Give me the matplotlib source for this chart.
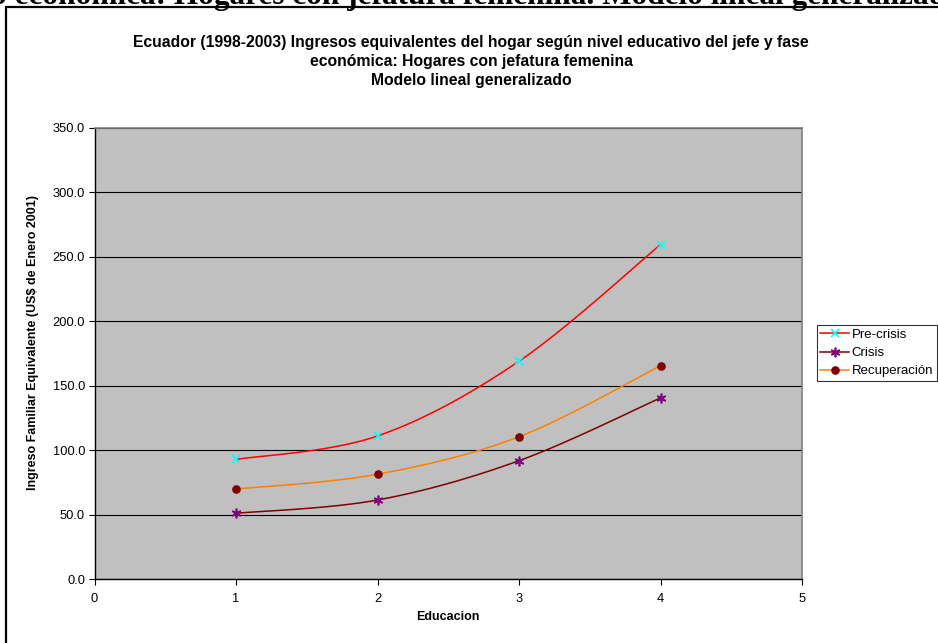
import numpy as np
import matplotlib.pyplot as plt
from matplotlib.patches import Rectangle

# data
educacion = [1, 2, 3, 4]
pre_crisis = [92.8, 111.0, 169.0, 259.5]
crisis = [51.0, 61.3, 91.8, 140.5]
recuperacion = [69.8, 81.3, 110.4, 165.5]


def smooth(xs, ys, n=40):
    # excel-like smoothed line (catmull-rom bezier)
    p = np.column_stack([xs, ys]).astype(float)
    p = np.vstack([p[0], p, p[-1]])
    out = []
    for i in range(1, len(p) - 2):
        p0, p1, p2, p3 = p[i], p[i] + (p[i + 1] - p[i - 1]) / 6, p[i + 1] - (p[i + 2] - p[i]) / 6, p[i + 1]
        t = np.linspace(0, 1, n)[:, None]
        seg = (1 - t) ** 3 * p0 + 3 * (1 - t) ** 2 * t * p1 + 3 * (1 - t) * t ** 2 * p2 + t ** 3 * p3
        out.append(seg if i == 1 else seg[1:])
    seg = np.vstack(out)
    return seg[:, 0], seg[:, 1]


plt.rcParams['font.family'] = ['Liberation Sans', 'DejaVu Sans']

fig = plt.figure(figsize=(9.38, 6.43), dpi=100)
W, H = 938, 643

# outer chart frame, runs off the right and bottom edges
fig.patches.append(Rectangle((5.5 / W, -0.1), 1.2, 1 - 7.5 / H + 0.1, transform=fig.transFigure,
                             fill=False, edgecolor='black', linewidth=1.6))

# clipped document heading above the chart
fig.text(-9 / W, 1 - 4 / H, 'o económica: Hogares con jefatura femenina. Modelo lineal generalizado',
         family='Liberation Serif', fontweight='bold', fontsize=22.5, ha='left', va='baseline')

fig.text(471 / W, 1 - 61.5 / H,
         'Ecuador (1998-2003) Ingresos equivalentes del hogar según nivel educativo del jefe y fase\n'
         'económica: Hogares con jefatura femenina\nModelo lineal generalizado',
         ha='center', va='center', fontsize=11.3, fontweight='bold', linespacing=1.32)

ax = fig.add_axes([94.5 / W, 64 / H, 707.5 / W, 451 / H])
ax.set_facecolor('#C0C0C0')
ax.set_xlim(0, 5)
ax.set_ylim(0, 350)
ax.set_yticks(np.arange(0, 351, 50))
ax.set_yticklabels(['%.1f' % v for v in np.arange(0, 351, 50)])
ax.set_xticks(range(6))
ax.grid(axis='y', color='black', linewidth=0.8)
ax.set_axisbelow(True)
for s in ['top', 'right']:
    ax.spines[s].set_color('#808080')
    ax.spines[s].set_linewidth(1.2)
ax.spines['left'].set_linewidth(1.0)
ax.spines['bottom'].set_linewidth(1.0)
ax.tick_params(axis='y', labelsize=9.3, length=4.3, width=0.8, pad=2.5)
ax.tick_params(axis='x', labelsize=9.3, length=4, width=0.8, pad=6)

series = [
    ('Pre-crisis', pre_crisis, '#FF0000', 'x', '#00FFFF', 6),
    ('Crisis', crisis, '#800000', (6, 2, 0), '#800080', 7),
    ('Recuperación', recuperacion, '#FF8000', 'o', '#800000', 5),
]
for name, vals, lc, mk, mc, ms in series:
    sx, sy = smooth(educacion, vals)
    ax.plot(sx, sy, color=lc, linewidth=1.1)
    ax.plot(educacion, vals, linestyle='none', marker=mk, color=mc, markersize=ms, markeredgewidth=1.2)
    ax.plot([], [], color=lc, linewidth=1.1, marker=mk, markerfacecolor=mc, markeredgecolor=mc,
            markersize=ms, markeredgewidth=1.2, label=name)

ax.set_xlabel('Educacion', fontsize=9, fontweight='bold', va='center')
ax.xaxis.set_label_coords(0.4997, (579 - 617) / 451)
ax.set_ylabel('Ingreso Familiar Equivalente (US$ de Enero 2001)', fontsize=9, fontweight='bold',
              va='center', ha='center')
ax.yaxis.set_label_coords((33 - 94.5) / 707.5, (579 - 342) / 451)

leg = fig.legend(loc='center left', bbox_to_anchor=(816.5 / W, 1 - 353 / H), fontsize=9.5,
                 frameon=True, fancybox=False, edgecolor='black', borderpad=0.3,
                 handlelength=2.2, handletextpad=0.15, labelspacing=0.45, borderaxespad=0)
leg.get_frame().set_linewidth(0.8)

fig.savefig('out.png', dpi=100)
